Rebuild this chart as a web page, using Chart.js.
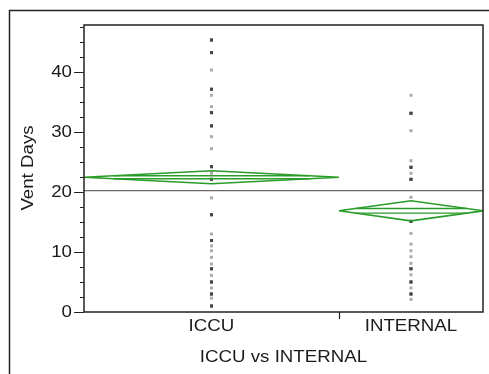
<!DOCTYPE html>
<html>
<head>
<meta charset="utf-8">
<script src="https://cdn.jsdelivr.net/npm/chart.js@4.4.0/dist/chart.umd.min.js"></script>
<style>
html, body { margin: 0; padding: 0; background: #fff; }
</style>
</head>
<body>
<canvas id="myChart" width="489" height="374"></canvas>
<script>
// groups and their sizes (x width of each group is proportional to n)
let groups = ['ICCU', 'INTERNAL'];
let groupN = [46, 26];

// vent days per patient, repeated values = stacked dots (drawn darker)
let iccuDays = [45.3, 45.3, 43.2, 43.2, 40.3, 37.1, 37.1, 36.1, 34.2, 33.2, 33.2, 31, 31, 29.2, 27.2,
  24.2, 24.2, 23.1, 22.1, 22.1, 19, 16.2, 16.2, 13, 11.9, 11.9, 11, 10.2, 9.1, 8, 7.2, 7.2, 6.1,
  5, 5, 4, 3, 3, 2.3, 1, 1];
let internalDays = [36.1, 33.1, 33.1, 30.2, 25.2, 24.1, 24.1, 23.1, 22.1, 22.1, 19.1, 15.1, 15.1,
  13.1, 11.3, 10.2, 9.2, 8.1, 7.2, 7.2, 6.2, 5, 5, 4, 3, 3, 2.1];

// means diamonds
let groupMeans = [22.45, 16.85];
let ciHalf = [1.08, 1.67];
let overlapHalf = [0.25, 0.38];
let grandMean = 20.2;

let yTicks = [0, 10, 20, 30, 40];
let yMinorStep = 2.5;
let yMax = 47.8;
let yTitle = 'Vent Days';
let xTitle = 'ICCU vs INTERNAL';

let green = '#2a9c2a';
let total = groupN[0] + groupN[1];
let edges = [0, groupN[0], total];
let centers = [groupN[0] / 2, groupN[0] + groupN[1] / 2];

function dotColor(ctx) {
  let arr = ctx.dataset.data;
  let v = arr[ctx.dataIndex] ? arr[ctx.dataIndex].y : null;
  let n = arr.filter(p => p.y === v).length;
  return n > 1 ? '#454545' : '#aaaaaa';
}

let datasets = [];

// grand mean line
datasets.push({
  data: [{ x: 0, y: grandMean }, { x: total, y: grandMean }],
  showLine: true, borderColor: '#6a6a6a', borderWidth: 1.2, pointRadius: 0
});

for (let i = 0; i < groups.length; i++) {
  let m = groupMeans[i], c = ciHalf[i], o = overlapHalf[i];
  let left = edges[i], right = edges[i + 1], mid = centers[i];
  let half = (right - left) / 2;
  datasets.push({
    data: [{ x: left, y: m }, { x: mid, y: m + c }, { x: right, y: m }, { x: mid, y: m - c }, { x: left, y: m }],
    showLine: true, borderColor: green, borderWidth: 1.6, pointRadius: 0
  });
  let w = half * (1 - o / c);
  datasets.push({
    data: [{ x: mid - w, y: m + o }, { x: mid + w, y: m + o }],
    showLine: true, borderColor: green, borderWidth: 1.4, pointRadius: 0
  });
  datasets.push({
    data: [{ x: mid - w, y: m - o }, { x: mid + w, y: m - o }],
    showLine: true, borderColor: green, borderWidth: 1.4, pointRadius: 0
  });
}

// the dots
[iccuDays, internalDays].forEach(function (vals, i) {
  datasets.push({
    data: vals.map(v => ({ x: centers[i], y: v })),
    pointStyle: 'rect', pointRadius: 2.1, borderWidth: 0,
    backgroundColor: dotColor, showLine: false
  });
});

function txt(ctx, s, x, y, rot) {
  ctx.save();
  ctx.translate(x, y);
  if (rot) ctx.rotate(rot);
  ctx.scale(1.1, 1);
  ctx.fillText(s, 0, 0);
  ctx.restore();
}

let axesPlugin = {
  id: 'jmpAxes',
  afterDraw(chart) {
    let ctx = chart.ctx;
    let a = chart.chartArea;
    let ys = chart.scales.y, xs = chart.scales.x;
    ctx.save();
    ctx.strokeStyle = '#222';
    ctx.lineWidth = 1.5;
    // outer frame
    ctx.beginPath();
    ctx.moveTo(9.5, 374); ctx.lineTo(9.5, 10.5); ctx.lineTo(489, 10.5);
    ctx.stroke();
    // plot frame
    ctx.strokeRect(a.left, a.top, a.right - a.left, a.bottom - a.top);
    // y ticks
    ctx.lineWidth = 1.2;
    ctx.beginPath();
    for (let v = 0; v <= yMax; v += yMinorStep) {
      let y = Math.round(ys.getPixelForValue(v)) + 0.5;
      let len = yTicks.includes(v) ? 10 : 4;
      ctx.moveTo(a.left - len, y); ctx.lineTo(a.left, y);
    }
    // x tick between groups
    let bx = Math.round(xs.getPixelForValue(edges[1])) + 0.5;
    ctx.moveTo(bx, a.bottom); ctx.lineTo(bx, a.bottom + 7);
    ctx.stroke();

    ctx.fillStyle = '#1b1b1b';
    ctx.font = '17px "Liberation Sans", Arial, sans-serif';
    ctx.textBaseline = 'middle';
    ctx.textAlign = 'right';
    yTicks.forEach(function (v) {
      let y = ys.getPixelForValue(v);
      ctx.save();
      ctx.translate(a.left - 12, y);
      ctx.scale(1.1, 1);
      ctx.fillText(String(v), 0, 0);
      ctx.restore();
    });
    ctx.textAlign = 'center';
    groups.forEach(function (g, i) {
      txt(ctx, g, xs.getPixelForValue(centers[i]), 326);
    });
    txt(ctx, xTitle, (a.left + a.right) / 2, 357);
    txt(ctx, yTitle, 28, 168, -Math.PI / 2);
    ctx.restore();
  }
};

let chart = new Chart(document.getElementById('myChart'), {
  type: 'scatter',
  data: { datasets: datasets },
  options: {
    responsive: false,
    animation: false,
    devicePixelRatio: 1,
    layout: { padding: { left: 84, top: 25, right: 6, bottom: 62 } },
    scales: {
      x: { type: 'linear', display: false, min: 0, max: total },
      y: { type: 'linear', display: false, min: 0, max: yMax }
    },
    plugins: { legend: { display: false }, tooltip: { enabled: false } },
    elements: { line: { tension: 0, fill: false } }
  },
  plugins: [axesPlugin]
});
</script>
</body>
</html>
